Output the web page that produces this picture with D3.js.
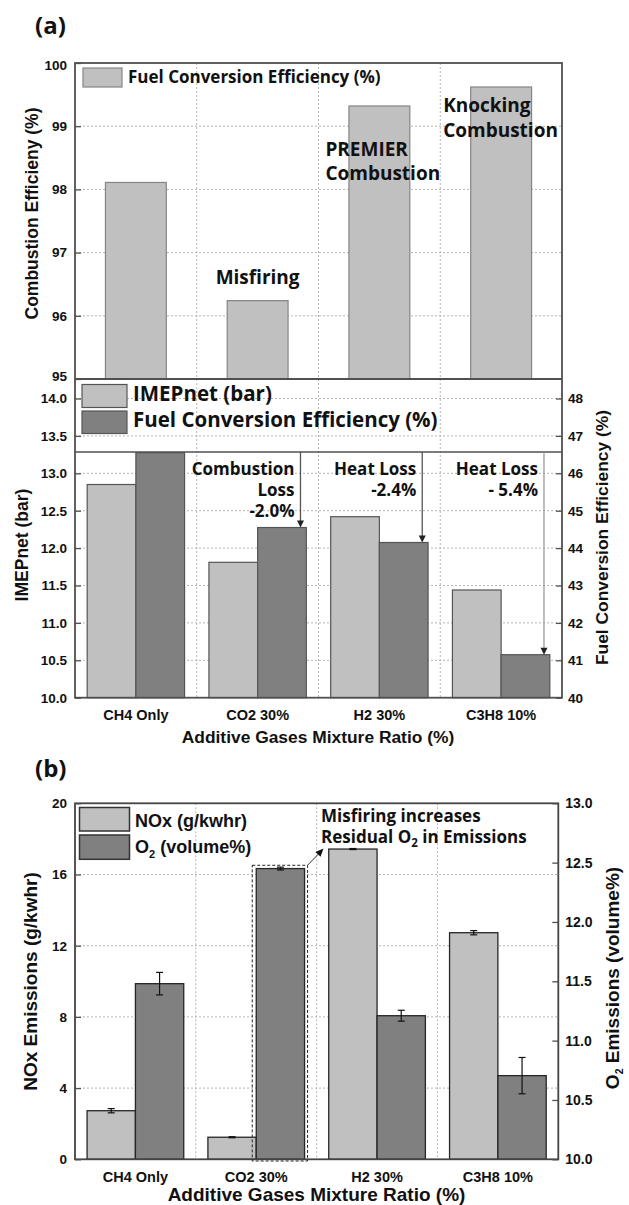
<!DOCTYPE html>
<html><head><meta charset="utf-8">
<script src="https://cdn.jsdelivr.net/npm/d3@7"></script>
<style>
body{margin:0;background:#fff}
svg{display:block}
</style></head><body>
<svg id="chart" width="629" height="1205"></svg>
<script>
// ---- data ----
const categories = ["CH4 Only", "CO2 30%", "H2 30%", "C3H8 10%"];
const combustionEff = [98.11, 96.24, 99.32, 99.62];
const combNotes = [null, ["Misfiring"], ["PREMIER", "Combustion"], ["Knocking", "Combustion"]];
const imepNet = [12.85, 11.81, 12.42, 11.44];
const fuelConvEff = [46.55, 44.55, 44.15, 41.15];
const lossNotes = [null, ["Combustion", "Loss", "-2.0%"], ["Heat Loss", "-2.4%"], ["Heat Loss", "- 5.4%"]];
const noxEmission = [2.73, 1.24, 17.43, 12.73];
const noxErr = [0.12, 0.03, 0.03, 0.12];
const o2Emission = [11.48, 12.45, 11.21, 10.705];
const o2Err = [0.095, 0.012, 0.046, 0.153];
const combTicks = [95, 96, 97, 98, 99, 100];
const imepTicks = [10, 10.5, 11, 11.5, 12, 12.5, 13, 13.5, 14];
const fceTicks = [40, 41, 42, 43, 44, 45, 46, 47, 48];
const noxTicks = [0, 4, 8, 12, 16, 20];
const o2Ticks = [10, 10.5, 11, 11.5, 12, 12.5, 13];

// ---- styles ----
const AX_FONT = '"Liberation Sans", Arial, sans-serif';
const NOTE_FONT = '"Open Sans", "Noto Sans", sans-serif';
const LIGHT = "#c0c0c0", DARK = "#808080";
const FRAME = "#505050", GRID = "#b4b4b4";

const svg = d3.select("#chart");

function grid(g, x, y, left, right, top, bottom, yVals) {
  yVals.forEach(v => {
    const yy = y(v);
    if (yy <= top + 1 || yy >= bottom - 1) return;
    g.append("line").attr("x1", left).attr("x2", right).attr("y1", yy).attr("y2", yy)
      .attr("stroke", GRID).attr("stroke-width", 1).attr("stroke-dasharray", "2,2");
  });
  x.domain().slice(1).forEach(c => {
    const xx = x(c);
    g.append("line").attr("x1", xx).attr("x2", xx).attr("y1", top).attr("y2", bottom)
      .attr("stroke", GRID).attr("stroke-width", 1).attr("stroke-dasharray", "2,2");
  });
}

function styleAxis(g, size) {
  g.select(".domain").remove();
  g.selectAll(".tick line").attr("stroke", FRAME).attr("stroke-width", 1.3);
  g.selectAll(".tick text").attr("font-family", AX_FONT).attr("font-weight", "bold")
    .attr("font-size", size).attr("fill", "#111");
}

function frame(g, l, r, t, b, color, w) {
  g.append("rect").attr("x", l).attr("y", t).attr("width", r - l).attr("height", b - t)
    .attr("fill", "none").attr("stroke", color).attr("stroke-width", w);
}

function vLabel(x, y, text, size, font) {
  return svg.append("text").attr("transform", `translate(${x},${y}) rotate(-90)`)
    .attr("text-anchor", "middle").attr("font-family", font || AX_FONT)
    .attr("font-weight", "bold").attr("font-size", size).attr("fill", "#111").text(text);
}

function note(x, y, text, size, anchor) {
  return svg.append("text").attr("x", x).attr("y", y).attr("text-anchor", anchor || "start")
    .attr("font-family", NOTE_FONT).attr("font-weight", "bold").attr("font-size", size)
    .attr("fill", "#111").text(text);
}

// ================= (a) =================
const A = {left: 75, right: 562, top: 63, mid: 379, bottom: 697.7, sep: 452};
const xA = d3.scaleBand().domain(categories).range([A.left, A.right]);
const yComb = d3.scaleLinear().domain([95, 100]).range([A.mid, A.top]);
const yImep = d3.scaleLinear().domain([10, 14]).range([A.bottom, A.bottom - 4 * 74.8]);
const yFce = d3.scaleLinear().domain([40, 48]).range([A.bottom, A.bottom - 8 * 37.4]);

note(35, 34, "(a)", 24);

// upper panel: combustion efficiency
const gA1 = svg.append("g");
grid(gA1, xA, yComb, A.left, A.right, A.top, A.mid, combTicks);
const bw1 = xA.bandwidth() * 0.5;
gA1.selectAll("rect.bar").data(categories).join("rect")
  .attr("x", c => xA(c) + (xA.bandwidth() - bw1) / 2)
  .attr("y", (c, i) => yComb(combustionEff[i]))
  .attr("width", bw1)
  .attr("height", (c, i) => A.mid - yComb(combustionEff[i]))
  .attr("fill", LIGHT).attr("stroke", "#858585").attr("stroke-width", 1.2);

// lower panel: IMEPnet + fuel conversion efficiency
const gA2 = svg.append("g");
grid(gA2, xA, yImep, A.left, A.right, A.mid, A.bottom, imepTicks);
const bw2 = xA.bandwidth() * 0.4;
gA2.selectAll("rect.imep").data(categories).join("rect")
  .attr("x", c => xA(c) + xA.bandwidth() / 2 - bw2)
  .attr("y", (c, i) => yImep(imepNet[i]))
  .attr("width", bw2)
  .attr("height", (c, i) => A.bottom - yImep(imepNet[i]))
  .attr("fill", LIGHT).attr("stroke", "#555").attr("stroke-width", 1.2);
gA2.selectAll("rect.fce").data(categories).join("rect")
  .attr("x", c => xA(c) + xA.bandwidth() / 2)
  .attr("y", (c, i) => Math.max(A.sep, yFce(fuelConvEff[i])))
  .attr("width", bw2)
  .attr("height", (c, i) => A.bottom - Math.max(A.sep, yFce(fuelConvEff[i])))
  .attr("fill", DARK).attr("stroke", "#555").attr("stroke-width", 1.2);

frame(svg, A.left, A.right, A.top, A.bottom, FRAME, 1.8);
svg.append("line").attr("x1", A.left).attr("x2", A.right).attr("y1", A.mid).attr("y2", A.mid)
  .attr("stroke", FRAME).attr("stroke-width", 1.8);
svg.append("line").attr("x1", A.left).attr("x2", A.right).attr("y1", A.sep).attr("y2", A.sep)
  .attr("stroke", FRAME).attr("stroke-width", 1.5);

const axA1 = svg.append("g").attr("transform", `translate(${A.left},0)`)
  .call(d3.axisLeft(yComb).tickValues(combTicks).tickFormat(d3.format("d")).tickSizeInner(-6).tickSizeOuter(0).tickPadding(8));
styleAxis(axA1, 13.5);
axA1.selectAll(".tick").filter(d => d === 95).select("text").attr("dy", "0.12em");
axA1.selectAll(".tick").filter(d => d === 100).select("text").attr("dy", "0.45em");

const axA2 = svg.append("g").attr("transform", `translate(${A.left},0)`)
  .call(d3.axisLeft(yImep).tickValues(imepTicks).tickFormat(d3.format(".1f")).tickSizeInner(-6).tickSizeOuter(0).tickPadding(8));
styleAxis(axA2, 13.5);
const axA2r = svg.append("g").attr("transform", `translate(${A.right},0)`)
  .call(d3.axisRight(yFce).tickValues(fceTicks).tickFormat(d3.format("d")).tickSizeInner(-6).tickSizeOuter(0).tickPadding(6));
styleAxis(axA2r, 13.5);

const axA2b = svg.append("g").attr("transform", `translate(0,${A.bottom})`)
  .call(d3.axisBottom(xA).tickSize(0).tickPadding(12));
styleAxis(axA2b, 14.5);

// legends
svg.append("rect").attr("x", 83).attr("y", 68).attr("width", 39).attr("height", 19)
  .attr("fill", LIGHT).attr("stroke", "#858585").attr("stroke-width", 1.2);
note(128, 82.5, "Fuel Conversion Efficiency (%)", 17);

svg.append("rect").attr("x", 82).attr("y", 384.5).attr("width", 45).attr("height", 23)
  .attr("fill", LIGHT).attr("stroke", "#555").attr("stroke-width", 1.2);
svg.append("rect").attr("x", 82).attr("y", 411).attr("width", 45).attr("height", 22.5)
  .attr("fill", DARK).attr("stroke", "#555").attr("stroke-width", 1.2);
note(133, 400.5, "IMEPnet (bar)", 20.5);
note(133, 427, "Fuel Conversion Efficiency (%)", 20.5);

// combustion regime notes
const combNoteLayout = [null, {dx: 0, anchor: "middle", dy: -17}, {dx: -54, anchor: "start", dy: 50}, {dx: -58, anchor: "start", dy: 25}];
combNotes.forEach((lines, i) => {
  if (!lines) return;
  const lay = combNoteLayout[i];
  const cx = xA(categories[i]) + xA.bandwidth() / 2 + lay.dx;
  const y0 = yComb(combustionEff[i]) + lay.dy;
  lines.forEach((t, k) => note(cx, y0 + k * 24.5, t, 19, lay.anchor));
});

// efficiency loss arrows and notes
lossNotes.forEach((lines, i) => {
  if (!lines) return;
  const x = xA(categories[i]) + xA.bandwidth() / 2 + bw2 * 0.88;
  const yTop = yFce(fuelConvEff[i]);
  svg.append("line").attr("x1", x).attr("x2", x).attr("y1", A.sep).attr("y2", yTop - 6)
    .attr("stroke", i === 3 ? "#9a9a9a" : "#555").attr("stroke-width", 1.3);
  svg.append("path").attr("d", `M${x - 3.5},${yTop - 7}L${x + 3.5},${yTop - 7}L${x},${yTop}Z`).attr("fill", "#222");
  lines.forEach((t, k) => note(x - 6, 474.5 + k * 21, t, 17, "end"));
});

vLabel(38, 213.5, "Combustion Efficieny (%)", 17.5);
vLabel(28, 545, "IMEPnet (bar)", 17.5);
vLabel(608, 537.5, "Fuel Conversion Efficiency (%)", 17.4);
svg.append("text").attr("x", 318).attr("y", 743).attr("text-anchor", "middle")
  .attr("font-family", AX_FONT).attr("font-weight", "bold").attr("font-size", 17.4).attr("fill", "#111")
  .text("Additive Gases Mixture Ratio (%)");

// ================= (b) =================
const B = {left: 75, right: 558.3, top: 803.3, bottom: 1159.3};
const xB = d3.scaleBand().domain(categories).range([B.left, B.right]);
const yNox = d3.scaleLinear().domain([0, 20]).range([B.bottom, B.top]);
const yO2 = d3.scaleLinear().domain([10, 13]).range([B.bottom, B.top]);

note(35, 777, "(b)", 24);

const gB = svg.append("g");
grid(gB, xB, yNox, B.left, B.right, B.top, B.bottom, noxTicks);
const bwB = xB.bandwidth() * 0.4;
gB.selectAll("rect.nox").data(categories).join("rect")
  .attr("x", c => xB(c) + xB.bandwidth() / 2 - bwB)
  .attr("y", (c, i) => yNox(noxEmission[i]))
  .attr("width", bwB)
  .attr("height", (c, i) => B.bottom - yNox(noxEmission[i]))
  .attr("fill", LIGHT).attr("stroke", "#262626").attr("stroke-width", 1.3);
gB.selectAll("rect.o2").data(categories).join("rect")
  .attr("x", c => xB(c) + xB.bandwidth() / 2)
  .attr("y", (c, i) => yO2(o2Emission[i]))
  .attr("width", bwB)
  .attr("height", (c, i) => B.bottom - yO2(o2Emission[i]))
  .attr("fill", DARK).attr("stroke", "#262626").attr("stroke-width", 1.3);

function errBar(x, yHi, yLo) {
  gB.append("line").attr("x1", x).attr("x2", x).attr("y1", yHi).attr("y2", yLo).attr("stroke", "#111").attr("stroke-width", 1.2);
  [yHi, yLo].forEach(yy => gB.append("line").attr("x1", x - 3.5).attr("x2", x + 3.5)
    .attr("y1", yy).attr("y2", yy).attr("stroke", "#111").attr("stroke-width", 1.2));
}
categories.forEach((c, i) => {
  const cx = xB(c) + xB.bandwidth() / 2;
  errBar(cx - bwB / 2, yNox(noxEmission[i] + noxErr[i]), yNox(noxEmission[i] - noxErr[i]));
  errBar(cx + bwB / 2, yO2(o2Emission[i] + o2Err[i]), yO2(o2Emission[i] - o2Err[i]));
});

frame(svg, B.left, B.right, B.top, B.bottom, "#444", 1.8);

const axBl = svg.append("g").attr("transform", `translate(${B.left},0)`)
  .call(d3.axisLeft(yNox).tickValues(noxTicks).tickFormat(d3.format("d")).tickSizeInner(-6).tickSizeOuter(0).tickPadding(8));
styleAxis(axBl, 13.5);
const axBr = svg.append("g").attr("transform", `translate(${B.right},0)`)
  .call(d3.axisRight(yO2).tickValues(o2Ticks).tickFormat(d3.format(".1f")).tickSizeInner(-6).tickSizeOuter(0).tickPadding(7));
styleAxis(axBr, 14);
const axBb = svg.append("g").attr("transform", `translate(0,${B.bottom})`)
  .call(d3.axisBottom(xB).tickSize(0).tickPadding(12));
styleAxis(axBb, 14.5);

// highlight around the misfiring O2 bar
const hx = xB(categories[1]) + xB.bandwidth() / 2;
const hy = yO2(o2Emission[1]);
svg.append("rect").attr("x", hx - 4).attr("y", hy - 3.3).attr("width", bwB + 7).attr("height", B.bottom - hy + 5)
  .attr("fill", "none").attr("stroke", "#222").attr("stroke-width", 1).attr("stroke-dasharray", "3,2");
const ax0 = hx + bwB + 3, ay0 = hy - 3.3, ax1 = 323.5, ay1 = 848.5;
svg.append("line").attr("x1", ax0).attr("y1", ay0).attr("x2", ax1 - 4).attr("y2", ay1 + 4.4)
  .attr("stroke", "#333").attr("stroke-width", 1);
{
  const ang = Math.atan2(ay1 - ay0, ax1 - ax0);
  const L = 8, W = 3.5;
  const bx = ax1 - L * Math.cos(ang), by = ay1 - L * Math.sin(ang);
  const px = -Math.sin(ang) * W, py = Math.cos(ang) * W;
  svg.append("path").attr("d", `M${ax1},${ay1}L${bx + px},${by + py}L${bx - px},${by - py}Z`).attr("fill", "#111");
}
note(321, 822, "Misfiring increases", 17);
{
  const t = note(321, 843, "Residual O", 17);
  t.append("tspan").attr("font-size", 11.5).attr("dy", 4).text("2");
  t.append("tspan").attr("dy", -4).text(" in Emissions");
}

// legend (b)
svg.append("rect").attr("x", 79.5).attr("y", 807.5).attr("width", 50).attr("height", 23.5)
  .attr("fill", LIGHT).attr("stroke", "#333").attr("stroke-width", 1.5);
svg.append("rect").attr("x", 79.5).attr("y", 835).attr("width", 50).attr("height", 24.3)
  .attr("fill", DARK).attr("stroke", "#333").attr("stroke-width", 1.5);
svg.append("text").attr("x", 135).attr("y", 827).attr("font-family", AX_FONT).attr("font-weight", "bold")
  .attr("font-size", 18).attr("fill", "#111").text("NOx (g/kwhr)");
{
  const t = svg.append("text").attr("x", 135).attr("y", 853).attr("font-family", AX_FONT).attr("font-weight", "bold")
    .attr("font-size", 18).attr("fill", "#111").text("O");
  t.append("tspan").attr("font-size", 11).attr("dy", 5).text("2");
  t.append("tspan").attr("dy", -5).text(" (volume%)");
}

vLabel(36.5, 981.5, "NOx Emissions (g/kwhr)", 19);
{
  const t = svg.append("text").attr("transform", `translate(619,978) rotate(-90)`)
    .attr("text-anchor", "middle").attr("font-family", AX_FONT).attr("font-weight", "bold")
    .attr("font-size", 19).attr("fill", "#111").text("O");
  t.append("tspan").attr("font-size", 10.5).attr("dy", 4).text("2");
  t.append("tspan").attr("dy", -4).text(" Emissions (volume%)");
}
svg.append("text").attr("x", 316.5).attr("y", 1201).attr("text-anchor", "middle")
  .attr("font-family", AX_FONT).attr("font-weight", "bold").attr("font-size", 19).attr("fill", "#111")
  .text("Additive Gases Mixture Ratio (%)");
</script>
</body></html>
